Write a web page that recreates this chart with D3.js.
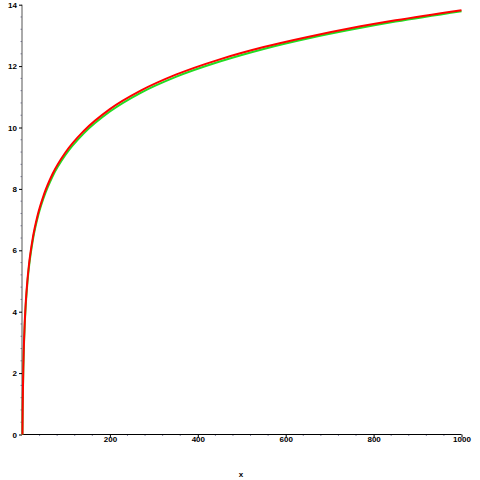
<!DOCTYPE html>
<html>
<head>
<meta charset="utf-8">
<script src="https://cdn.jsdelivr.net/npm/d3@7"></script>
<style>
  body { margin: 0; background: #fff; }
  text { font-family: "Liberation Sans", Arial, sans-serif; font-weight: bold; font-size: 8px; fill: #000; }
</style>
</head>
<body>
<div id="chart"></div>
<script>
  // values
  const xs = [1, 1.5, 2, 3, 4, 6, 8, 12, 16, 25, 35, 50, 70, 100, 140, 200, 270, 350, 450, 550, 650, 750, 850, 1000]
  const redVals = [0, 0.81, 1.39, 2.20, 2.77, 3.58, 4.16, 4.97, 5.55, 6.44, 7.11, 7.82, 8.50, 9.21, 9.88, 10.60, 11.20, 11.72, 12.22, 12.62, 12.95, 13.24, 13.49, 13.82]
  const greenVals = [0, 0.75, 1.32, 2.12, 2.69, 3.50, 4.08, 4.89, 5.47, 6.36, 7.03, 7.74, 8.42, 9.13, 9.80, 10.52, 11.13, 11.65, 12.15, 12.56, 12.90, 13.19, 13.45, 13.79]
  const xTicks = [200, 400, 600, 800, 1000]
  const yTicks = [0, 2, 4, 6, 8, 10, 12, 14]

  const width = 480
  const height = 480

  const svg = d3.select('#chart')
    .append('svg')
    .attr('width', width)
    .attr('height', height)

  const x = d3.scaleLinear().domain([0, 1000]).range([22, 461.5])
  const y = d3.scaleLinear().domain([0, 14]).range([434.5, 4.7])

  // minor ticks
  const xMinor = d3.range(40, 1000, 40).filter(function (v) { return v % 200 !== 0 })
  const yMinor = d3.range(0.4, 14, 0.4).filter(function (v) { return Math.abs(v / 2 - Math.round(v / 2)) > 0.01 })

  svg.append('g')
    .selectAll('line')
    .data(xMinor)
    .enter()
    .append('line')
    .attr('x1', function (d) { return x(d) })
    .attr('x2', function (d) { return x(d) })
    .attr('y1', y(0))
    .attr('y2', y(0) + 1.5)
    .attr('stroke', '#8888aa')

  svg.append('g')
    .selectAll('line')
    .data(yMinor)
    .enter()
    .append('line')
    .attr('x1', x(0) - 1.5)
    .attr('x2', x(0))
    .attr('y1', function (d) { return y(d) })
    .attr('y2', function (d) { return y(d) })
    .attr('stroke', '#8888aa')

  // axes
  const xAxis = d3.axisBottom(x).tickValues(xTicks).tickSize(3).tickFormat(d3.format('d'))
  const yAxis = d3.axisLeft(y).tickValues(yTicks).tickSize(3).tickFormat(d3.format('d'))

  const gx = svg.append('g').attr('transform', 'translate(0,' + y(0) + ')').call(xAxis)
  const gy = svg.append('g').attr('transform', 'translate(' + x(0) + ',0)').call(yAxis)

  gx.select('.domain').attr('d', 'M' + x(0) + ',0H' + x(1000)).attr('stroke', '#000')
  gy.select('.domain').attr('d', 'M0,' + y(0) + 'V' + y(14)).attr('stroke', '#555')
  gx.selectAll('text').attr('dy', '0.35em').attr('y', 5).style('font-size', '8px').style('font-family', '"Liberation Sans", Arial, sans-serif').style('font-weight', 'bold')
  gy.selectAll('text').attr('x', -5).style('font-size', '8px').style('font-family', '"Liberation Sans", Arial, sans-serif').style('font-weight', 'bold')

  svg.append('text')
    .attr('x', 241)
    .attr('y', 477)
    .attr('text-anchor', 'middle')
    .text('x')

  const line = d3.line()
    .x(function (d) { return x(d[0]) })
    .y(function (d) { return y(d[1]) })
    .curve(d3.curveMonotoneX)

  svg.append('path')
    .datum(d3.zip(xs, greenVals))
    .attr('d', line)
    .attr('fill', 'none')
    .attr('stroke', '#22dd22')
    .attr('stroke-width', 2)

  svg.append('path')
    .datum(d3.zip(xs, redVals))
    .attr('d', line)
    .attr('fill', 'none')
    .attr('stroke', '#ff0000')
    .attr('stroke-width', 2)
</script>
</body>
</html>
